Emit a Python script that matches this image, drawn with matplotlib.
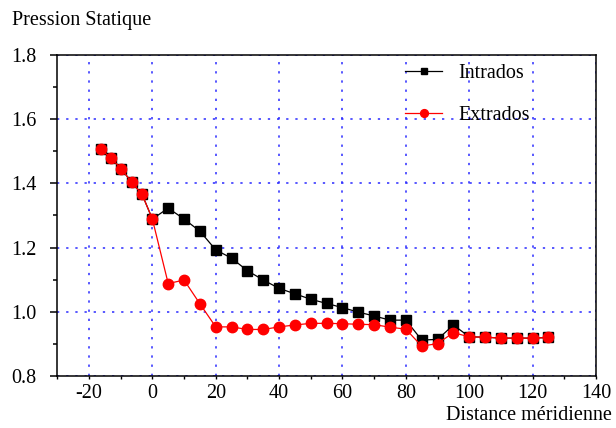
import numpy as np
import matplotlib
matplotlib.use("Agg")
import matplotlib.pyplot as plt
from matplotlib.ticker import MultipleLocator

# distance meridienne
x = [-16.25, -13, -9.75, -6.5, -3.25, 0, 5, 10, 15, 20, 25, 30, 35, 40, 45,
     50, 55, 60, 65, 70, 75, 80, 85, 90, 95, 100, 105, 110, 115, 120, 125]

intrados = [1.506, 1.478, 1.445, 1.403, 1.366, 1.289, 1.323, 1.289, 1.251,
            1.193, 1.167, 1.128, 1.099, 1.073, 1.056, 1.039, 1.026, 1.013,
            0.999, 0.987, 0.974, 0.974, 0.912, 0.914, 0.959, 0.922, 0.921,
            0.918, 0.918, 0.918, 0.920]

extrados = [1.506, 1.478, 1.445, 1.403, 1.366, 1.289, 1.088, 1.099, 1.025,
            0.953, 0.953, 0.945, 0.945, 0.953, 0.959, 0.964, 0.964, 0.963,
            0.961, 0.960, 0.952, 0.946, 0.893, 0.901, 0.935, 0.922, 0.921,
            0.918, 0.918, 0.918, 0.920]

plt.rcParams['font.family'] = ['Liberation Serif', 'DejaVu Serif']
plt.rcParams['font.size'] = 14.5
plt.rcParams['axes.unicode_minus'] = False

fig = plt.figure(figsize=(6.16, 4.28), dpi=100)
ax = fig.add_axes([57.3 / 616, 1 - 376 / 428, (596 - 57.3) / 616, (376 - 55) / 428])

ax.plot(x, intrados, color='black', lw=0.9, marker='s', ms=6.5,
        mec='black', mfc='black', label='Intrados', zorder=3)
ax.plot(x, extrados, color='red', lw=0.9, marker='o', ms=7.5,
        mec='red', mfc='red', label='Extrados', zorder=4)

ax.set_xlim(-30, 140)
ax.set_ylim(0.8, 1.8)
ax.xaxis.set_major_locator(MultipleLocator(20))
ax.xaxis.set_minor_locator(MultipleLocator(10))
ax.yaxis.set_major_locator(MultipleLocator(0.2))
ax.yaxis.set_minor_locator(MultipleLocator(0.1))
ax.yaxis.set_major_formatter(matplotlib.ticker.FormatStrFormatter('%.1f'))

ax.grid(True, which='major', color='#2a2aff', linestyle=(0, (1.5, 4.5)), lw=1.1)
ax.set_axisbelow(True)

for s in ax.spines.values():
    s.set_linewidth(1.1)

ax.tick_params(axis='y', which='major', direction='out', length=5, width=1.1, pad=10)
ax.tick_params(axis='y', which='minor', direction='out', length=3, width=1.1)
ax.tick_params(axis='x', which='both', direction='out', length=2.5, width=1.0, pad=3)

leg = ax.legend(loc='upper left', bbox_to_anchor=(405 / 616, 1 - 64 / 428),
                bbox_transform=fig.transFigure, frameon=False, borderpad=0,
                handlelength=1.85, handletextpad=0.8, labelspacing=1.15,
                borderaxespad=0, markerscale=0.75)

fig.text(12 / 616, 1 - 20 / 428, 'Pression Statique', va='center', ha='left')
fig.text(446 / 616, 1 - 415 / 428, 'Distance méridienne', va='center', ha='left')

plt.savefig("out.png", dpi=100)
